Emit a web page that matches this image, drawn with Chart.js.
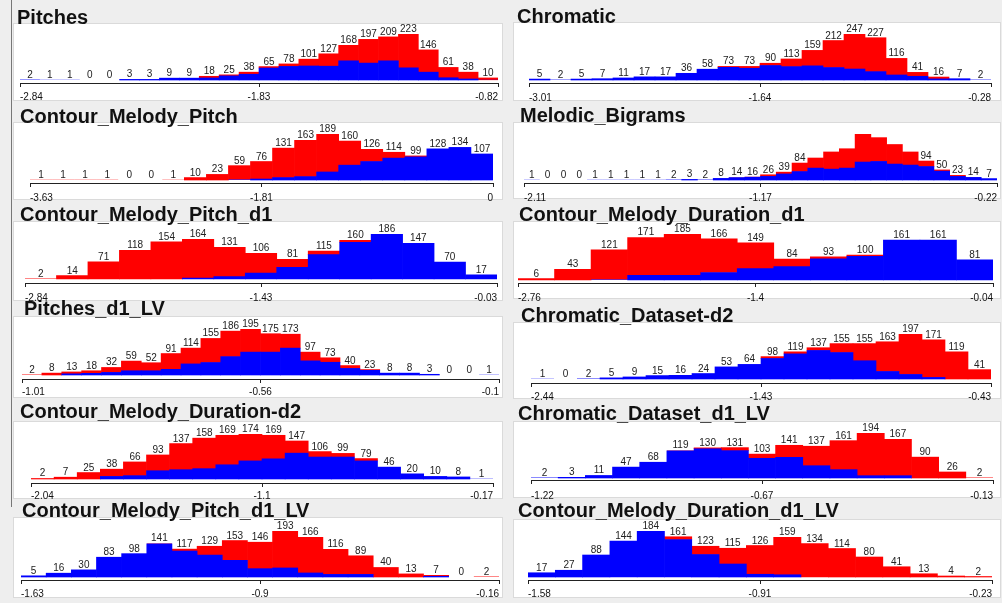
<!DOCTYPE html>
<html>
<head>
<meta charset="utf-8">
<script src="https://cdn.jsdelivr.net/npm/chart.js@4.4.1/dist/chart.umd.min.js"></script>
<style>
  html, body { margin: 0; padding: 0; background: #eeeeee; }
  body { width: 1002px; height: 603px; position: relative; overflow: hidden; }
  .box { position: absolute; background: #ffffff; box-shadow: 0 0 0 1px #dadada; }
  .title { position: absolute; font: bold 20px "Liberation Sans", Arial, sans-serif; line-height: 20px; color: #111; white-space: nowrap; }
  .rule { position: absolute; background: #777; }
  canvas { position: absolute; }
</style>
</head>
<body>
<div class="rule" style="left:11px;top:0;width:1px;height:507px"></div>
<script>
// Panel titles, in reading order (left, right, next row ...)
const panelTitles = [
  'Pitches', 'Chromatic',
  'Contour_Melody_Pitch', 'Melodic_Bigrams',
  'Contour_Melody_Pitch_d1', 'Contour_Melody_Duration_d1',
  'Pitches_d1_LV', 'Chromatic_Dataset-d2',
  'Contour_Melody_Duration-d2', 'Chromatic_Dataset_d1_LV',
  'Contour_Melody_Pitch_d1_LV', 'Contour_Melody_Duration_d1_LV'
];

// Bin totals (labelled above each bar) and the blue share of each bin
const pitchesCounts = [2,1,1,0,0,3,3,9,9,18,25,38,65,78,101,127,168,197,209,223,146,61,38,10];
const pitchesBlue   = [2,1,1,0,0,3,3,9,9,10,20,28,58,66,68,67,93,82,93,59,38,11,5,1];
const pitchesTicks  = ['-2.84', '-1.83', '-0.82'];

const chromaticCounts = [5,2,5,7,11,17,17,36,58,73,73,90,113,159,212,247,227,116,41,16,7,2];
const chromaticBlue   = [5,2,5,7,11,17,17,36,58,68,63,78,72,76,67,59,45,27,20,6,7,2];
const chromaticTicks  = ['-3.01', '-1.64', '-0.28'];

const contourPitchCounts = [1,1,1,1,0,0,1,10,23,59,76,131,163,189,160,126,114,99,128,134,107];
const contourPitchBlue   = [0,0,0,0,0,0,0,0,0,2,4,10,14,33,61,76,90,95,128,134,107];
const contourPitchTicks  = ['-3.63', '-1.81', '0'];

const bigramCounts = [1,0,0,0,1,1,1,1,1,2,3,2,8,14,16,26,39,84,109,139,155,228,210,176,139,94,50,23,14,7];
const bigramBlue   = [1,0,0,0,1,1,1,1,1,2,3,2,8,12,14,18,30,42,59,54,59,89,92,79,74,67,44,18,13,7];
const bigramTicks  = ['-2.11', '-1.17', '-0.22'];
const bigramUnlabelled = [18,19,20,21,22,23,24];

const contourPitchD1Counts = [2,14,71,118,154,164,131,106,81,115,160,186,147,70,17];
const contourPitchD1Blue   = [0,0,0,0,0,4,10,24,48,101,152,186,147,70,17];
const contourPitchD1Ticks  = ['-2.84', '-1.43', '-0.03'];

const durationD1Counts = [6,43,121,171,185,166,149,84,93,100,161,161,81];
const durationD1Blue   = [0,0,2,19,19,30,46,54,85,95,161,161,81];
const durationD1Ticks  = ['-2.76', '-1.4', '-0.04'];

const pitchesD1LVCounts = [2,8,13,18,32,59,52,91,114,155,186,195,175,173,97,73,40,23,8,8,3,0,0,1];
const pitchesD1LVBlue   = [0,0,5,7,11,18,18,24,47,53,78,97,97,114,60,54,28,20,8,8,3,0,0,1];
const pitchesD1LVTicks  = ['-1.01', '-0.56', '-0.1'];

const chromaticD2Counts = [1,0,2,5,9,15,16,24,53,64,98,119,137,155,155,163,197,171,119,41];
const chromaticD2Blue   = [1,0,2,5,9,15,16,24,53,64,90,110,125,116,80,33,20,7,0,0];
const chromaticD2Ticks  = ['-2.44', '-1.43', '-0.43'];

const durationD2Counts = [2,7,25,38,66,93,137,158,169,174,169,147,106,99,79,46,20,10,8,1];
const durationD2Blue   = [0,0,0,10,13,32,36,40,55,70,78,100,85,85,70,46,20,10,8,1];
const durationD2Ticks  = ['-2.04', '-1.1', '-0.17'];

const chromaticD1LVCounts = [2,3,11,47,68,119,130,131,103,141,137,161,194,167,90,26,2];
const chromaticD1LVBlue   = [2,3,11,47,68,117,126,118,85,89,53,36,10,10,0,0,0];
const chromaticD1LVTicks  = ['-1.22', '-0.67', '-0.13'];

const pitchD1LVCounts = [5,16,30,83,98,141,117,129,153,146,193,166,116,89,40,13,7,0,2];
const pitchD1LVBlue   = [5,16,30,83,98,139,109,92,70,35,38,17,11,11,0,0,3,0,0];
const pitchD1LVTicks  = ['-1.63', '-0.9', '-0.16'];

const durationD1LVCounts = [17,27,88,144,184,161,123,115,126,159,134,114,80,41,13,4,2];
const durationD1LVBlue   = [17,27,88,144,184,150,90,52,11,9,0,0,0,0,0,0,0];
const durationD1LVTicks  = ['-1.58', '-0.91', '-0.23'];

const panels = [
  { counts: pitchesCounts,        blue: pitchesBlue,        ticks: pitchesTicks,        hide: [] },
  { counts: chromaticCounts,      blue: chromaticBlue,      ticks: chromaticTicks,      hide: [] },
  { counts: contourPitchCounts,   blue: contourPitchBlue,   ticks: contourPitchTicks,   hide: [] },
  { counts: bigramCounts,         blue: bigramBlue,         ticks: bigramTicks,         hide: bigramUnlabelled },
  { counts: contourPitchD1Counts, blue: contourPitchD1Blue, ticks: contourPitchD1Ticks, hide: [] },
  { counts: durationD1Counts,     blue: durationD1Blue,     ticks: durationD1Ticks,     hide: [] },
  { counts: pitchesD1LVCounts,    blue: pitchesD1LVBlue,    ticks: pitchesD1LVTicks,    hide: [] },
  { counts: chromaticD2Counts,    blue: chromaticD2Blue,    ticks: chromaticD2Ticks,    hide: [] },
  { counts: durationD2Counts,     blue: durationD2Blue,     ticks: durationD2Ticks,     hide: [] },
  { counts: chromaticD1LVCounts,  blue: chromaticD1LVBlue,  ticks: chromaticD1LVTicks,  hide: [] },
  { counts: pitchD1LVCounts,      blue: pitchD1LVBlue,      ticks: pitchD1LVTicks,      hide: [] },
  { counts: durationD1LVCounts,   blue: durationD1LVBlue,   ticks: durationD1LVTicks,   hide: [] }
];

// Page geometry of each panel: white box, axis span, tallest bar top, bar base, axis line, title anchor
const frames = [
  { boxL: 14,  boxR: 502,  boxT: 24,  boxB: 100, axisL: 20,  axisR: 498, barTop: 34,  base: 80,  axisY: 83,  gap: 4, tx: 17,  ty: 23.5 },
  { boxL: 514, boxR: 1000, boxT: 23,  boxB: 100, axisL: 529, axisR: 991, barTop: 34,  base: 80,  axisY: 83,  gap: 5, tx: 517, ty: 23.3 },
  { boxL: 14,  boxR: 502,  boxT: 123, boxB: 199, axisL: 30,  axisR: 493, barTop: 134, base: 180, axisY: 183, gap: 5, tx: 20,  ty: 122.7 },
  { boxL: 514, boxR: 1000, boxT: 123, boxB: 198, axisL: 524, axisR: 997, barTop: 134, base: 180, axisY: 183, gap: 5, tx: 520, ty: 121.7 },
  { boxL: 14,  boxR: 502,  boxT: 222, boxB: 300, axisL: 25,  axisR: 497, barTop: 234, base: 279, axisY: 283, gap: 5, tx: 20,  ty: 220.7 },
  { boxL: 514, boxR: 1000, boxT: 222, boxB: 298, axisL: 518, axisR: 993, barTop: 234, base: 280, axisY: 283, gap: 5, tx: 519, ty: 220.7 },
  { boxL: 14,  boxR: 502,  boxT: 317, boxB: 397, axisL: 22,  axisR: 499, barTop: 329, base: 375, axisY: 379, gap: 3, tx: 24,  ty: 315 },
  { boxL: 514, boxR: 1000, boxT: 323, boxB: 398, axisL: 531, axisR: 991, barTop: 334, base: 379, axisY: 383, gap: 4, tx: 521, ty: 321.7 },
  { boxL: 14,  boxR: 502,  boxT: 422, boxB: 498, axisL: 31,  axisR: 493, barTop: 434, base: 479, axisY: 483, gap: 3, tx: 20,  ty: 418.3 },
  { boxL: 514, boxR: 1000, boxT: 422, boxB: 497, axisL: 531, axisR: 993, barTop: 433, base: 478, axisY: 480, gap: 6, tx: 518, ty: 420 },
  { boxL: 14,  boxR: 502,  boxT: 518, boxB: 597, axisL: 21,  axisR: 499, barTop: 531, base: 577, axisY: 580, gap: 4, tx: 22,  ty: 516.7 },
  { boxL: 514, boxR: 1000, boxT: 520, boxB: 597, axisL: 528, axisR: 992, barTop: 531, base: 577, axisY: 580, gap: 4, tx: 518, ty: 516.7 }
];

const FONT = '"Liberation Sans", Arial, sans-serif';
const TICK_LEN = 4;

function place(el, l, t, w, h) {
  el.style.left = l + 'px';
  el.style.top = t + 'px';
  if (w !== undefined) el.style.width = w + 'px';
  if (h !== undefined) el.style.height = h + 'px';
}

panels.forEach((p, k) => {
  const g = frames[k];
  const cL = g.boxL - 10, cR = g.boxR + 10, cT = g.boxT - 2, cB = g.boxB + 6;

  const box = document.createElement('div');
  box.className = 'box';
  place(box, g.boxL, g.boxT, g.boxR - g.boxL, g.boxB - g.boxT);
  document.body.appendChild(box);

  const cv = document.createElement('canvas');
  cv.width = cR - cL;
  cv.height = cB - cT;
  place(cv, cL, cT);
  document.body.appendChild(cv);

  const title = document.createElement('div');
  title.className = 'title';
  title.textContent = panelTitles[k];
  place(title, g.tx, g.ty - 17);
  document.body.appendChild(title);

  const lo = parseFloat(p.ticks[0]);
  const hi = parseFloat(p.ticks[2]);
  const n = p.counts.length;
  const binW = (hi - lo) / n;
  const centers = p.counts.map((_, i) => lo + (i + 0.5) * binW);
  const red = p.counts.map((c, i) => c - p.blue[i]);
  const maxV = Math.max(...p.counts);
  const pxPerUnit = (g.base - g.barTop) / maxV;
  const yMin = -maxV * (g.axisY - g.base) / (g.base - g.barTop);
  const asPoints = arr => arr.map((v, i) => ({ x: centers[i], y: v > 0 ? v : null }));
  // sub-pixel slivers are left un-inflated so they stay invisible
  const inflate = c => (c.raw && c.raw.y * pxPerUnit < 0.5) ? 0 : 'auto';

  const totalsOnTop = {
    id: 'totalsOnTop',
    afterDatasetsDraw(chart) {
      const { ctx, scales: { x, y } } = chart;
      ctx.save();
      ctx.font = '10px ' + FONT;
      ctx.fillStyle = '#222';
      ctx.textAlign = 'center';
      ctx.textBaseline = 'alphabetic';
      p.counts.forEach((v, i) => {
        if (p.hide.includes(i)) return;
        ctx.fillText(String(v), x.getPixelForValue(centers[i]), y.getPixelForValue(v) - 2);
      });
      ctx.restore();
    }
  };

  new Chart(cv, {
    type: 'bar',
    data: {
      datasets: [
        { data: asPoints(p.blue), backgroundColor: '#0000ff', borderWidth: 0, inflateAmount: inflate },
        { data: asPoints(red),    backgroundColor: '#ff0000', borderWidth: 0, inflateAmount: inflate }
      ]
    },
    options: {
      responsive: false,
      animation: false,
      devicePixelRatio: 1,
      events: [],
      barPercentage: 1,
      categoryPercentage: 1,
      layout: { padding: { left: g.axisL - cL, right: cR - g.axisR, top: g.barTop - cT, bottom: 0 } },
      plugins: { legend: { display: false }, title: { display: false }, tooltip: { enabled: false } },
      scales: {
        x: {
          type: 'linear',
          min: lo,
          max: hi,
          offset: false,
          stacked: true,
          afterBuildTicks: s => { s.ticks = [{ value: lo }, { value: (lo + hi) / 2 }, { value: hi }]; },
          afterFit: s => { s.height = cB - g.axisY; },
          grid: { offset: false, drawOnChartArea: false, drawTicks: true, tickLength: TICK_LEN, color: '#222', lineWidth: 1 },
          border: { display: true, color: '#222', width: 1 },
          ticks: {
            autoSkip: false,
            maxRotation: 0,
            minRotation: 0,
            align: 'inner',
            padding: g.gap,
            color: '#111',
            font: { size: 10, family: FONT },
            callback: (v, i) => p.ticks[i]
          }
        },
        y: { display: false, stacked: true, min: yMin, max: maxV }
      }
    },
    plugins: [totalsOnTop]
  });
});
</script>
</body>
</html>
